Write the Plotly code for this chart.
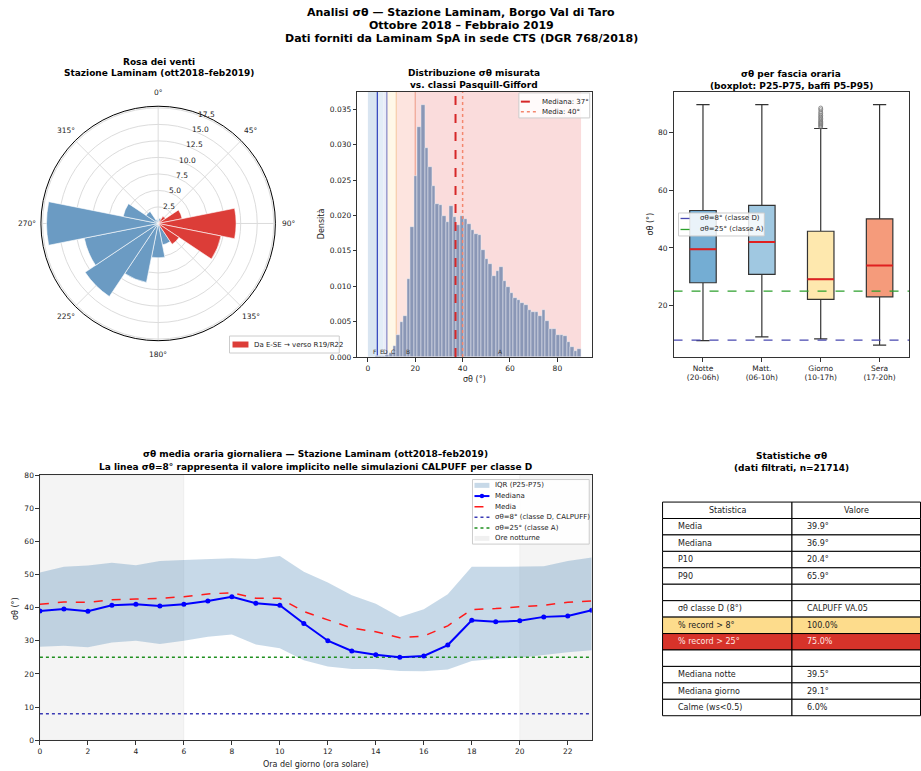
import math
import plotly.graph_objects as go

W, H = 921, 771
VS, VB = 0.988, 3.1   # compensation for the observed vertical squeeze of the snapshot
def px(x): return x / W
def py(y): return 1 - ((y - VB) / VS) / H

FONT = "DejaVu Sans"
TXT = "#222222"

# ---------------- DATA ----------------
# Wind rose (16 sectors, % frequency)
rose_dirs = [0, 22.5, 45, 67.5, 90, 112.5, 135, 157.5, 180, 202.5, 225, 247.5, 270, 292.5, 315, 337.5]
rose_freq = [0.5, 0.8, 1.3, 3.7, 11.8, 9.7, 3.8, 3.3, 5.2, 9.1, 13.3, 11.4, 16.9, 5.4, 2.2, 0.6]
rose_from_ese = [False, False, True, True, True, True, True, False,
                 False, False, False, False, False, False, False, False]
rose_ticks = [2.5, 5.0, 7.5, 10.0, 12.5, 15.0, 17.5]
rose_rmax = 17.75
rose_angle_ticks = [0, 45, 90, 135, 180, 225, 270, 315]

# Histogram of sigma-theta (density, bins of 1.5 deg from 0 to 90)
hist_bin_width = 1.5
hist_density = [0.0, 0.0, 0.0001, 0.0001, 0.0002, 0.0003, 0.0006, 0.0016, 0.0031, 0.0049,
                0.0058, 0.0110, 0.0184, 0.0256, 0.0325, 0.0356, 0.0295, 0.0268, 0.0242, 0.0216,
                0.0215, 0.0199, 0.0191, 0.0213, 0.0198, 0.0187, 0.0200, 0.0195, 0.0188, 0.0180,
                0.0174, 0.0172, 0.0152, 0.0138, 0.0131, 0.0114, 0.0122, 0.0127, 0.0107, 0.0099,
                0.0090, 0.0083, 0.0081, 0.0077, 0.0073, 0.0066, 0.0064, 0.0063, 0.0058, 0.0066,
                0.0051, 0.0040, 0.0039, 0.0031, 0.0031, 0.0030, 0.0021, 0.0014, 0.0008, 0.0012]
sigma_median = 37
sigma_mean = 40
pg_band_lo = [0, 4, 6.5, 8, 12, 20]
pg_band_hi = [4, 6.5, 8, 12, 20, 90]
pg_band_col = ["#d9e5f1", "#e3edf7", "#e9edf8", "#fff8e8", "#fde4df", "#fadcdc"]
pg_lines = [4, 8, 12, 20]
pg_line_col = ["#3b4cc0", "#8c8cc8", "#f7cfae", "#f0a898"]
pg_labels = ["F", "E", "D", "C", "B", "A"]
pg_label_x = [2.8, 5.9, 7.3, 10.5, 16.8, 55.8]

# Boxplot by time band
box_labels = ["Notte<br>(20-06h)", "Matt.<br>(06-10h)", "Giorno<br>(10-17h)", "Sera<br>(17-20h)"]
box_low = [7.8, 9.1, 8.4, 6.2]
box_q1 = [27.9, 30.8, 22.1, 23.0]
box_med = [39.5, 42.1, 29.1, 33.9]
box_q3 = [53.0, 54.8, 45.8, 50.1]
box_high = [89.8, 89.8, 81.5, 89.8]
box_colors = ["#74add3", "#a0c8e1", "#fee8ae", "#f59b7b"]
giorno_outliers = [82.0, 82.4, 82.8, 83.2, 83.6, 84.0, 84.5, 85.0, 85.5, 86.0, 86.6, 87.2, 88.0, 88.6]

# Hourly profile
hours = list(range(24))
hour_median = [39.0, 39.6, 38.9, 40.7, 41.0, 40.5, 41.0, 42.0, 43.3, 41.3, 40.7, 35.2,
               30.0, 26.9, 25.8, 25.0, 25.4, 28.7, 36.2, 35.7, 36.0, 37.2, 37.5, 39.2]
hour_mean = [41.0, 41.7, 41.6, 42.4, 42.6, 42.8, 43.3, 44.1, 44.5, 42.8, 42.8, 38.8,
             36.3, 33.8, 32.7, 30.9, 31.4, 34.5, 39.4, 39.7, 40.3, 40.7, 41.6, 42.0]
hour_p75 = [50.6, 52.3, 52.7, 53.5, 52.8, 54.1, 54.4, 54.6, 54.9, 54.7, 55.6, 50.8,
            47.6, 43.7, 41.2, 37.2, 39.5, 44.0, 52.3, 52.3, 52.3, 52.5, 54.1, 55.1]
hour_p25 = [28.2, 28.5, 28.0, 29.5, 30.0, 29.0, 30.0, 31.2, 31.9, 28.9, 27.7, 24.1,
            22.2, 21.5, 21.5, 20.9, 20.8, 21.3, 23.9, 24.6, 24.9, 25.8, 26.5, 27.1]
night_start = [0, 20]
night_end = [6, 23]
sigma_classD = 8
sigma_classA = 25

# Table
tab_header = ["Statistica", "Valore"]
tab_stat = ["Media", "Mediana", "P10", "P90", "", "σθ classe D (8°)", "% record > 8°",
            "% record > 25°", "", "Mediana notte", "Mediana giorno", "Calme (ws<0.5)"]
tab_val = ["39.9°", "36.9°", "20.4°", "65.9°", "", "CALPUFF VA.05", "100.0%",
           "75.0%", "", "39.5°", "29.1°", "6.0%"]
tab_fill = ["white"] * 6 + ["#fddc8c", "#d7332a"] + ["white"] * 4
tab_fcol = [TXT] * 7 + ["#fde8e4"] + [TXT] * 4

# colours
C_BLUE_ROSE = "#6b9bc3"
C_RED_ROSE = "#dc3d38"
C_MED = "#d62728"
C_MEAN = "#f4876e"
C_D = "#4848b0"
C_A = "#2ca02c"

# ---------------- FIGURE ----------------
fig = go.Figure()

# Wind rose
blue_t = [d for d, f in zip(rose_dirs, rose_from_ese) if not f]
blue_r = [r for r, f in zip(rose_freq, rose_from_ese) if not f]
red_t = [d for d, f in zip(rose_dirs, rose_from_ese) if f]
red_r = [r for r, f in zip(rose_freq, rose_from_ese) if f]
fig.add_trace(go.Barpolar(theta=blue_t, r=blue_r, width=[22.5] * len(blue_t),
                          marker=dict(color=C_BLUE_ROSE, line=dict(color="white", width=0.6))))
fig.add_trace(go.Barpolar(theta=red_t, r=red_r, width=[22.5] * len(red_t),
                          marker=dict(color=C_RED_ROSE, line=dict(color="white", width=0.6))))

# Histogram
centers = [hist_bin_width * (i + 0.5) for i in range(len(hist_density))]
fig.add_trace(go.Bar(x=centers, y=hist_density, width=hist_bin_width,
                     marker=dict(color="#8a97b6", line=dict(color="#eef0f5", width=0.5)),
                     xaxis="x", yaxis="y"))
ytop = 0.03745
fig.add_trace(go.Scatter(x=[sigma_median, sigma_median], y=[0, ytop], mode="lines",
                         line=dict(color=C_MED, width=2, dash="dash"), xaxis="x", yaxis="y"))
fig.add_trace(go.Scatter(x=[sigma_mean, sigma_mean], y=[0, ytop], mode="lines",
                         line=dict(color=C_MEAN, width=1.5, dash="dot"), xaxis="x", yaxis="y"))

shapes = []
for lo, hi, c in zip(pg_band_lo, pg_band_hi, pg_band_col):
    shapes.append(dict(type="rect", xref="x", yref="y domain", x0=lo, x1=hi, y0=0, y1=1,
                       fillcolor=c, line=dict(width=0), layer="below"))
for xv, c in zip(pg_lines, pg_line_col):
    shapes.append(dict(type="line", xref="x", yref="y domain", x0=xv, x1=xv, y0=0, y1=1,
                       line=dict(color=c, width=1.3), layer="below"))

annotations = []
for lab, xv in zip(pg_labels, pg_label_x):
    annotations.append(dict(text=lab, x=xv, y=0.0, xref="x", yref="y", yanchor="bottom",
                            showarrow=False, font=dict(size=6, color="#333", family=FONT)))

# Boxplot
bw = 0.45
for i in range(4):
    pos = i + 1
    fig.add_trace(go.Box(x=[pos], q1=[box_q1[i]], median=[box_med[i]], q3=[box_q3[i]],
                         lowerfence=[box_low[i]], upperfence=[box_high[i]],
                         width=bw, fillcolor=box_colors[i], whiskerwidth=0.5,
                         line=dict(color="#333333", width=1.2), boxpoints=False,
                         xaxis="x2", yaxis="y2", hoverinfo="skip"))
    fig.add_trace(go.Scatter(x=[pos - bw / 2, pos + bw / 2], y=[box_med[i], box_med[i]],
                             mode="lines", line=dict(color="#e02020", width=2),
                             xaxis="x2", yaxis="y2"))
fig.add_trace(go.Scatter(x=[3] * len(giorno_outliers), y=giorno_outliers, mode="markers",
                         marker=dict(symbol="circle-open", size=4, color="#777", line=dict(width=0.8)),
                         xaxis="x2", yaxis="y2"))
fig.add_trace(go.Scatter(x=[0.5, 4.5], y=[sigma_classD] * 2, mode="lines",
                         line=dict(color=C_D, width=1.3, dash="dash"), xaxis="x2", yaxis="y2"))
fig.add_trace(go.Scatter(x=[0.5, 4.5], y=[sigma_classA] * 2, mode="lines",
                         line=dict(color=C_A, width=1.3, dash="dash"), xaxis="x2", yaxis="y2"))

# Hourly profile
nx, ny = [], []
for s, e in zip(night_start, night_end):
    nx += [s, e, e, s, s, None]
    ny += [0, 0, 80, 80, 0, None]
fig.add_trace(go.Scatter(x=nx, y=ny, fill="toself", fillcolor="rgba(0,0,0,0.045)",
                         line=dict(color="rgba(0,0,0,0.08)", width=0.6), mode="lines",
                         xaxis="x3", yaxis="y3"))
fig.add_trace(go.Scatter(x=hours, y=hour_p75, mode="lines", line=dict(width=0, color="rgba(70,130,180,0.3)"),
                         xaxis="x3", yaxis="y3"))
fig.add_trace(go.Scatter(x=hours, y=hour_p25, mode="lines", fill="tonexty",
                         fillcolor="rgba(70,130,180,0.3)", line=dict(width=0, color="rgba(70,130,180,0.3)"),
                         xaxis="x3", yaxis="y3"))
fig.add_trace(go.Scatter(x=[0, 23], y=[sigma_classD] * 2, mode="lines",
                         line=dict(color="#3a3ab5", width=1.5, dash="dot"), xaxis="x3", yaxis="y3"))
fig.add_trace(go.Scatter(x=[0, 23], y=[sigma_classA] * 2, mode="lines",
                         line=dict(color="#1f8f1f", width=1.5, dash="dot"), xaxis="x3", yaxis="y3"))
fig.add_trace(go.Scatter(x=hours, y=hour_mean, mode="lines",
                         line=dict(color="#ff1a1a", width=1.5, dash="dash"), xaxis="x3", yaxis="y3"))
fig.add_trace(go.Scatter(x=hours, y=hour_median, mode="lines+markers",
                         line=dict(color="#0000ff", width=2), marker=dict(size=5, color="#0000ff"),
                         xaxis="x3", yaxis="y3"))

# ---------------- helpers for text / legends ----------------
def esc(s):
    return s.replace("&", "&amp;").replace("<", "&lt;").replace(">", "&gt;")

def title2(lines, xc, ys, size=9):
    for t, yv in zip(lines, ys):
        annotations.append(dict(text=t, x=px(xc), y=py(yv), xref="paper", yref="paper",
                                showarrow=False, xanchor="center", yanchor="middle",
                                font=dict(size=size, color="black", family=FONT, weight="bold")))

def label(t, x, y, angle=0, size=8, anchor="center", color=TXT):
    annotations.append(dict(text=esc(t), x=px(x), y=py(y), xref="paper", yref="paper", showarrow=False,
                            textangle=angle, xanchor=anchor, yanchor="middle",
                            font=dict(size=size, color=color, family=FONT)))

def rect(x0, y0, x1, y1, fill, lc="black", lw=1, layer="above"):
    shapes.append(dict(type="rect", xref="paper", yref="paper", x0=px(x0), x1=px(x1),
                       y0=py(y1), y1=py(y0), fillcolor=fill, layer=layer,
                       line=dict(color=lc, width=lw)))

def lg_box(x0, y0, x1, y1):
    rect(x0, y0, x1, y1, "rgba(255,255,255,0.85)", lc="#cccccc", lw=1)

def lg_line(x0, x1, y, color, width, dash):
    shapes.append(dict(type="line", xref="paper", yref="paper", x0=px(x0), x1=px(x1),
                       y0=py(y), y1=py(y), line=dict(color=color, width=width, dash=dash)))

def lg_rect(x0, x1, y, h, color):
    rect(x0, y - h / 2, x1, y + h / 2, color, lw=0)

def lg_dot(x, y, r, color):
    shapes.append(dict(type="circle", xref="paper", yref="paper", x0=px(x - r), x1=px(x + r),
                       y0=py(y + r), y1=py(y - r), fillcolor=color, line=dict(width=0)))

def lg_text(x, y, t, size=7):
    label(t, x, y, size=size, anchor="left")

# Titles
title2(["Analisi σθ — Stazione Laminam, Borgo Val di Taro", "Ottobre 2018 – Febbraio 2019",
        "Dati forniti da Laminam SpA in sede CTS (DGR 768/2018)"], 460, [12, 25, 38], size=11)
title2(["Rosa dei venti", "Stazione Laminam (ott2018–feb2019)"], 157, [61, 72])
title2(["Distribuzione σθ misurata", "vs. classi Pasquill-Gifford"], 473.5, [72, 84])
title2(["σθ per fascia oraria", "(boxplot: P25-P75, baffi P5-P95)"], 791, [73, 85])
title2(["σθ media oraria giornaliera — Stazione Laminam (ott2018–feb2019)",
        "La linea σθ=8° rappresenta il valore implicito nelle simulazioni CALPUFF per classe D"],
       314.5, [453, 466])
title2(["Statistiche σθ", "(dati filtrati, n=21714)"], 791, [455, 467])

label("σθ (°)", 473.5, 378)
label("Densità", 321, 223, angle=-90)
label("σθ (°)", 650, 223, angle=-90)
label("Ora del giorno (ora solare)", 314.5, 763)
label("σθ (°)", 13, 607, angle=-90)

# Wind-rose tick labels (placed from the polar geometry)
P_X0, P_X1, P_Y0, P_Y1 = 39, 274, 105, 340
pcx, pcy, prad = (P_X0 + P_X1) / 2, (P_Y0 + P_Y1) / 2, (P_X1 - P_X0) / 2
for a in rose_angle_ticks:
    rr = prad + 13.5
    label(f"{a}°", pcx + rr * math.sin(math.radians(a)), pcy - rr * math.cos(math.radians(a)), size=7.5)
for v in rose_ticks:
    rr = v / rose_rmax * prad
    label(f"{v:.1f}", pcx + rr * math.sin(math.radians(22.5)) + 4.5,
          pcy - rr * math.cos(math.radians(22.5)) - 2, size=7.5)

# Statistics table (cells laid out row by row from the table lists)
T_X0, T_XM, T_X1, T_Y0, T_RH = 662, 791.7, 920.5, 501, 16.43
rect(T_X0, T_Y0, T_XM, T_Y0 + T_RH, "white")
rect(T_XM, T_Y0, T_X1, T_Y0 + T_RH, "white")
label(tab_header[0], (T_X0 + T_XM) / 2, T_Y0 + T_RH / 2)
label(tab_header[1], (T_XM + T_X1) / 2, T_Y0 + T_RH / 2)
for i, (s, v, fc, tc) in enumerate(zip(tab_stat, tab_val, tab_fill, tab_fcol)):
    y0 = T_Y0 + T_RH * (i + 1)
    rect(T_X0, y0, T_XM, y0 + T_RH, fc)
    rect(T_XM, y0, T_X1, y0 + T_RH, fc)
    if s:
        label(s, T_X0 + 13, y0 + T_RH / 2, anchor="left", color=tc)
    if v:
        label(v, T_XM + 13, y0 + T_RH / 2, anchor="left", color=tc)

# Legends (manual, compact like the reference)
lg_box(228, 335, 338, 352)
lg_rect(231, 247, 343.5, 6, C_RED_ROSE)
lg_text(251, 343.5, "Da E-SE → verso R19/R22")

lg_box(518, 92, 589, 117)
lg_line(520, 536, 100.7, C_MED, 2, "dash")
lg_text(539, 100.7, "Mediana: 37°")
lg_line(520, 536, 110.7, C_MEAN, 1.5, "dot")
lg_text(539, 110.7, "Media: 40°")

lg_box(678, 212, 764, 235)
lg_line(680, 694, 217.5, C_D, 1.3, "dash")
lg_text(698, 217.5, "σθ=8° (classe D)")
lg_line(680, 694, 228.5, C_A, 1.3, "dash")
lg_text(698, 228.5, "σθ=25° (classe A)")

lg_box(471.5, 478.5, 588.5, 543)
lg_rect(473.5, 488.5, 484.3, 5, "rgba(70,130,180,0.3)")
lg_line(473.5, 488.5, 495, "#0000ff", 2, "solid")
lg_dot(481, 495, 2.2, "#0000ff")
lg_line(473.5, 488.5, 505.7, "#ff1a1a", 1.5, "dash")
lg_line(473.5, 488.5, 516.3, "#3a3ab5", 1.5, "dot")
lg_line(473.5, 488.5, 527, "#1f8f1f", 1.5, "dot")
lg_rect(473.5, 488.5, 537.3, 5, "rgba(0,0,0,0.06)")
for yv, t in zip([484.3, 495, 505.7, 516.3, 527, 537.3],
                 ["IQR (P25-P75)", "Mediana", "Media", "σθ=8° (classe D, CALPUFF)",
                  "σθ=25° (classe A)", "Ore notturne"]):
    lg_text(492.5, yv, t)

# ---------------- LAYOUT ----------------
def ax(domain, **kw):
    d = dict(domain=domain, showline=True, mirror=True, linecolor="#333333", linewidth=1,
             ticks="outside", ticklen=3.5, tickwidth=0.8, tickcolor="#333333",
             tickfont=dict(size=7.5, color=TXT, family=FONT), showgrid=False, zeroline=False)
    d.update(kw)
    return d

fig.update_layout(
    width=W, height=H, margin=dict(l=0, r=0, t=0, b=0),
    paper_bgcolor="white", plot_bgcolor="white",
    font=dict(family=FONT, color=TXT),
    showlegend=False,
    polar=dict(
        domain=dict(x=[px(P_X0), px(P_X1)], y=[py(P_Y1), py(P_Y0)]),
        bgcolor="white",
        angularaxis=dict(rotation=90, direction="clockwise", tickmode="array",
                         tickvals=rose_angle_ticks, showticklabels=False,
                         showline=True, linecolor="black", linewidth=1, gridcolor="#dcdcdc",
                         ticks=""),
        radialaxis=dict(range=[0, rose_rmax], tickmode="array", tickvals=rose_ticks,
                        showticklabels=False, showline=False, gridcolor="#dcdcdc", ticks=""),
    ),
    xaxis=ax([px(356), px(591)], anchor="y", range=[-4.5, 94.5], tickvals=[0, 20, 40, 60, 80]),
    yaxis=ax([py(356), py(91)], anchor="x", range=[0, ytop], dtick=0.005, tickformat=".3f"),
    xaxis2=ax([px(673), px(909)], anchor="y2", range=[0.5, 4.5], tickvals=[1, 2, 3, 4],
              ticktext=box_labels),
    yaxis2=ax([py(356), py(91)], anchor="x2", range=[2.1, 94.2], tickvals=[20, 40, 60, 80]),
    xaxis3=ax([px(38), px(591)], anchor="y3", range=[0, 23], dtick=2),
    yaxis3=ax([py(739), py(474)], anchor="x3", range=[0, 80], dtick=10),
    shapes=shapes,
    annotations=annotations,
    bargap=0,
)

fig.write_html("out.html", config={"displayModeBar": False},
               post_script="document.body.style.margin='0';"
                           "document.documentElement.style.overflow='hidden';")
